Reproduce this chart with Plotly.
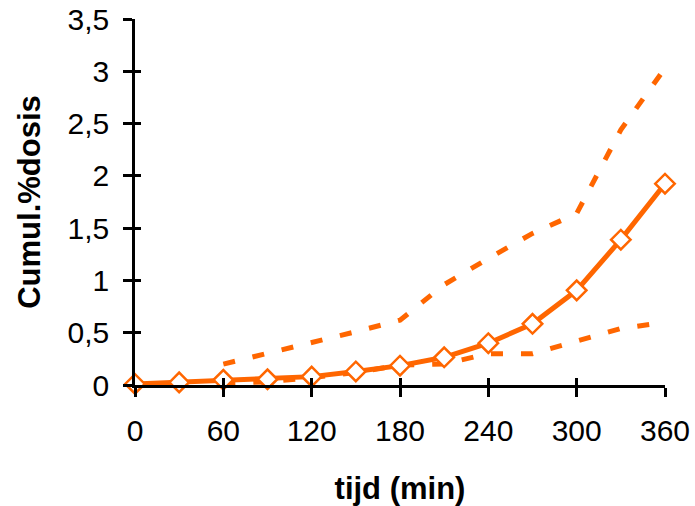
import plotly.graph_objects as go

tijd = [0, 30, 60, 90, 120, 150, 180, 210, 240, 270, 300, 330, 360]
gemiddeld = [0.01, 0.025, 0.05, 0.055, 0.08, 0.13, 0.185, 0.265, 0.40, 0.585, 0.905, 1.39, 1.925]
boven = [None, None, 0.20, 0.30, 0.40, 0.51, 0.62, 0.96, 1.21, 1.45, 1.64, 2.44, 3.03]
onder = [None, None, 0.02, 0.03, 0.07, 0.12, 0.19, 0.20, 0.30, 0.30, 0.42, 0.54, 0.60]

x_ticks = [0, 60, 120, 180, 240, 300, 360]
y_ticks = [0, 0.5, 1, 1.5, 2, 2.5, 3, 3.5]

oranje = "#FF6600"
font_family = "Liberation Sans, Arial, sans-serif"

fig = go.Figure()
for serie in (boven, onder):
    fig.add_trace(go.Scatter(
        x=tijd, y=serie, mode="lines",
        line=dict(color=oranje, width=5, dash="12px,18px"),
        connectgaps=False, cliponaxis=False, showlegend=False, hoverinfo="skip",
    ))
fig.add_trace(go.Scatter(
    x=tijd, y=gemiddeld, mode="lines+markers",
    line=dict(color=oranje, width=5),
    marker=dict(symbol="diamond", size=15, color="white", line=dict(color=oranje, width=2.5)),
    cliponaxis=False, showlegend=False,
))

axis_common = dict(showgrid=False, zeroline=False, linecolor="black", linewidth=2.5,
                   tickcolor="black", tickwidth=2.5, automargin=False)

fig.update_layout(
    width=695, height=506,
    margin=dict(l=135, r=30, t=19, b=121),
    paper_bgcolor="white", plot_bgcolor="white",
    separators=",.",
    font=dict(family=font_family, size=30, color="black"),
    xaxis=dict(range=[0, 360], tickvals=x_ticks, ticks="outside", ticklen=9,
               showline=True, ticklabelstandoff=8,
               title=dict(text="<b>tijd (min)</b>", font=dict(size=31), standoff=34),
               **axis_common),
    yaxis=dict(range=[0, 3.5], tickvals=y_ticks, ticks="outside", ticklen=9,
               showline=True, ticklabelstandoff=8,
               title=dict(text="<b>Cumul.%dosis</b>", font=dict(size=31), standoff=18),
               **axis_common),
    xaxis2=dict(range=[0, 360], tickvals=x_ticks, ticks="inside", ticklen=7,
                overlaying="x", showticklabels=False, showline=False, showgrid=False,
                zeroline=False, tickcolor="black", tickwidth=2.5, matches="x"),
    yaxis2=dict(range=[0, 3.5], tickvals=y_ticks, ticks="inside", ticklen=6,
                overlaying="y", showticklabels=False, showline=False, showgrid=False,
                zeroline=False, tickcolor="black", tickwidth=2.5, matches="y"),
)
fig.add_trace(go.Scatter(x=[None], y=[None], xaxis="x2", yaxis="y2", showlegend=False))

fig.write_html("out.html", config={"displayModeBar": False},
               post_script="document.body.style.margin='0';document.body.style.overflow='hidden';")
